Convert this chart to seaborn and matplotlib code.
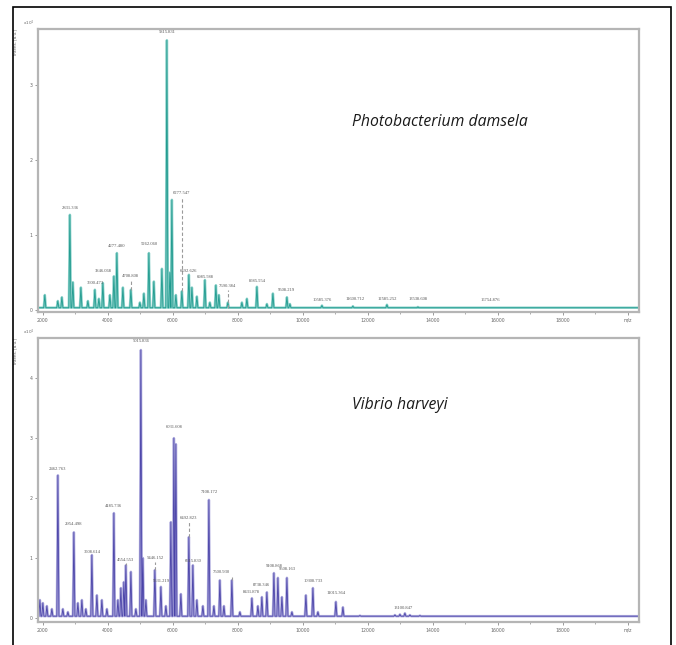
import numpy as np
import pandas as pd
import matplotlib
matplotlib.use("Agg")
import matplotlib.pyplot as plt
import seaborn as sns
from matplotlib.patches import Rectangle

# ---- data (m/z, intensity in x10^4 a.u.) ----
pd_mz = [2060, 2460, 2585, 2831, 2923, 3170, 3385, 3600, 3723, 3846, 4062, 4185,
         4277, 4462, 4708, 4985, 5108, 5262, 5415, 5662, 5815, 5908, 5969, 6092,
         6277, 6492, 6585, 6738, 6985, 7138, 7323, 7415, 7692, 8123, 8277, 8585,
         8892, 9077, 9508, 9600, 10585, 11538, 12585, 13538, 15754]
pd_int = [0.20, 0.12, 0.17, 1.27, 0.37, 0.30, 0.12, 0.27, 0.15, 0.36, 0.20, 0.45,
          0.76, 0.30, 0.27, 0.10, 0.22, 0.76, 0.38, 0.55, 3.60, 0.50, 1.47, 0.20,
          0.25, 0.47, 0.30, 0.18, 0.40, 0.10, 0.33, 0.20, 0.10, 0.10, 0.15, 0.31,
          0.08, 0.22, 0.17, 0.08, 0.06, 0.05, 0.07, 0.04, 0.03]

pd_lab_mz = [2831, 3600, 3846, 4277, 4708, 5262, 5815, 6277, 6492, 6985, 7690,
             8585, 9508, 10585, 11600, 12585, 13538, 15754]
pd_lab_y = [1.33, 0.33, 0.50, 0.83, 0.43, 0.86, 3.68, 1.53, 0.50, 0.42, 0.29,
            0.36, 0.24, 0.11, 0.12, 0.12, 0.12, 0.10]
pd_lab_txt = ["2831.336", "3600.473", "3846.068", "4277.480", "4708.808", "5262.060",
              "5815.831", "6277.547", "6492.626", "6985.588", "7690.384", "8585.554",
              "9508.219", "10585.376", "11600.712", "12585.252", "13538.608", "15754.876"]
pd_dashed = [6277, 4708, 7690]

vh_mz = [1908, 2000, 2123, 2277, 2462, 2615, 2770, 2954, 3077, 3200, 3323, 3508,
         3662, 3815, 3970, 4185, 4308, 4400, 4492, 4554, 4708, 4862, 5015, 5077,
         5170, 5446, 5631, 5785, 5938, 6031, 6092, 6246, 6492, 6615, 6738, 6923,
         7108, 7262, 7446, 7570, 7815, 8062, 8431, 8615, 8738, 8892, 9108, 9231,
         9354, 9508, 9662, 10092, 10308, 10462, 11015, 11231, 11754, 12062, 12831,
         12985, 13138, 13292, 13600, 15138]
vh_int = [0.30, 0.25, 0.20, 0.15, 2.38, 0.15, 0.10, 1.43, 0.25, 0.30, 0.15, 1.05,
          0.38, 0.30, 0.15, 1.75, 0.30, 0.50, 0.60, 0.88, 0.77, 0.15, 4.47, 1.00,
          0.30, 0.80, 0.52, 0.20, 1.60, 3.00, 2.90, 0.40, 1.35, 0.88, 0.30, 0.20,
          1.97, 0.20, 0.63, 0.20, 0.63, 0.10, 0.33, 0.20, 0.35, 0.43, 0.75, 0.67,
          0.35, 0.67, 0.10, 0.38, 0.50, 0.10, 0.27, 0.18, 0.04, 0.03, 0.05,
          0.06, 0.08, 0.05, 0.04, 0.03]

vh_lab_mz = [2462, 2954, 3508, 4185, 4554, 5015, 5446, 5631, 6031, 6492, 6615,
             7108, 7500, 8431, 8738, 9108, 9508, 10308, 11015, 13100]
vh_lab_y = [2.45, 1.53, 1.07, 1.84, 0.94, 4.58, 0.96, 0.59, 3.16, 1.64, 0.91,
            2.06, 0.74, 0.40, 0.52, 0.84, 0.78, 0.59, 0.38, 0.14]
vh_lab_txt = ["2462.763", "2954.498", "3508.614", "4185.736", "4554.553", "5015.836",
              "5446.152", "5631.219", "6031.608", "6492.823", "6615.830", "7108.172",
              "7500.930", "8431.878", "8738.346", "9108.868", "9508.163", "10308.733",
              "11015.364", "13100.847"]
vh_dashed = [4554, 5446, 6492, 7815]

xticks = [2000, 4000, 6000, 8000, 10000, 12000, 14000, 16000, 18000, 20000]
xtick_labels = ["2000", "4000", "6000", "8000", "10000", "12000", "14000",
                "16000", "18000", "m/z"]

sns.set_theme(style="white")
plt.rcParams["font.family"] = ["DejaVu Sans"]


def trace(mz, inten, base=0.03, half=32):
    rows = [(1850, base)]
    for m, h in sorted(zip(mz, inten)):
        rows += [(m - half, base), (m, h), (m + half, base)]
    rows.append((20340, base))
    return pd.DataFrame(rows, columns=["mz", "intens"])


def panel(ax, mz, inten, labs, laby, labtxt, dashed, light, dark, ymax, yticks, title):
    df = trace(mz, inten)
    sns.lineplot(data=df, x="mz", y="intens", sort=False, estimator=None,
                 color=light, lw=1.8, ax=ax)
    sns.lineplot(data=df, x="mz", y="intens", sort=False, estimator=None,
                 color=dark, lw=0.6, ax=ax)
    peak_h = dict(zip(mz, inten))
    for m in dashed:
        ly = laby[labs.index(m)] if m in labs else max(inten) * 0.16
        ax.vlines(m, peak_h.get(m, 0.03), ly - 0.03, colors="#9a9a9a",
                  linestyles=(0, (3, 2)), lw=0.8)
    for m, y, t in zip(labs, laby, labtxt):
        ax.text(m, y, t, ha="center", va="bottom", fontsize=3.3,
                family="Liberation Serif", color="#555555")
    ax.set_xlim(1850, 20340)
    ax.set_ylim(ymax[0], ymax[1])
    ax.set_xticks(xticks)
    ax.set_xticklabels(xtick_labels)
    ax.set_xticks(np.arange(3000, 20000, 2000), minor=True)
    ax.set_yticks(yticks)
    ax.set_yticklabels([str(v) for v in yticks])
    ax.tick_params(axis="both", which="major", labelsize=3.3, colors="#8a8a8a",
                   labelcolor="#666666", length=2, width=0.6, pad=2, direction="out",
                   bottom=True, left=True)
    ax.tick_params(axis="both", which="minor", length=1.5, width=0.5,
                   colors="#8a8a8a", bottom=True)
    ax.set_xlabel("")
    ax.set_ylabel("")
    for s in ax.spines.values():
        s.set_color("#b5b5b5")
        s.set_linewidth(1.6)
    ax.text(-0.038, 1.0, "Intens. [a.u.]", transform=ax.transAxes, rotation=90,
            ha="center", va="top", fontsize=3.0, color="#666666")
    ax.text(-0.015, 1.005, "x10$^4$", transform=ax.transAxes, ha="center",
            va="bottom", fontsize=3.0, color="#666666")
    ax.text(0.522, title[1], title[0], transform=ax.transAxes, ha="left",
            va="center", fontsize=11.3, style="italic", family="Open Sans",
            color="#1a1a1a")


fig = plt.figure(figsize=(6.76, 6.45), dpi=100)
fig.patch.set_facecolor("white")
ax1 = fig.add_axes([38 / 676, 1 - 312 / 645, 601 / 676, 283 / 645])
ax2 = fig.add_axes([38 / 676, 1 - 622 / 645, 601 / 676, 284 / 645])

panel(ax1, pd_mz, pd_int, pd_lab_mz, pd_lab_y, pd_lab_txt, pd_dashed,
      "#8fd3cc", "#1f9a8e", (-0.027, 3.75), [0, 1, 2, 3],
      ("Photobacterium damsela", 0.671))
panel(ax2, vh_mz, vh_int, vh_lab_mz, vh_lab_y, vh_lab_txt, vh_dashed,
      "#b3b0e0", "#4a43a8", (-0.067, 4.67), [0, 1, 2, 3, 4],
      ("Vibrio harveyi", 0.764))

fig.patches.append(Rectangle((13 / 676, -0.02), 658 / 676, 1.02 - 7 / 645,
                             transform=fig.transFigure, fill=False,
                             edgecolor="black", lw=1.2))

fig.savefig("out.png", dpi=100)
